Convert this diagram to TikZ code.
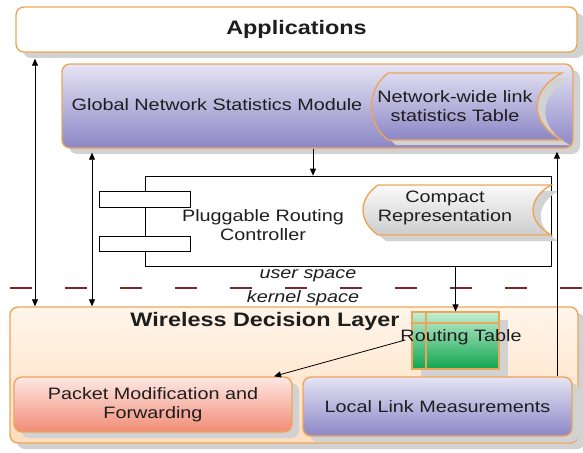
\documentclass[tikz,border=0pt]{standalone}
\usepackage{fontspec}
\setmainfont{Liberation Sans}[FakeStretch=1.2]
\usetikzlibrary{shadows,arrows.meta,calc}
\definecolor{ob}{RGB}{236,166,90}
\definecolor{purT}{RGB}{230,228,244}
\definecolor{purB}{RGB}{140,134,198}
\definecolor{redT}{RGB}{253,232,228}
\definecolor{redB}{RGB}{242,140,118}
\definecolor{orT}{RGB}{255,245,234}
\definecolor{orB}{RGB}{252,222,190}
\definecolor{grT}{RGB}{196,238,210}
\definecolor{grB}{RGB}{16,166,80}
\definecolor{cpT}{RGB}{250,250,250}
\definecolor{cpB}{RGB}{205,205,205}
\definecolor{dashc}{RGB}{125,40,40}
\definecolor{shc}{RGB}{210,210,210}
\definecolor{tx}{RGB}{30,30,30}
\newcommand\rgfont{\fontsize{16.5}{19}\selectfont}
\newcommand\bgfont{\fontsize{19.5}{22}\selectfont\bfseries}
\begin{document}
\begin{tikzpicture}[x=1pt,y=-1pt,
  box/.style={draw=ob, line width=1.4pt, rounded corners=8pt, inner sep=0pt, align=center, font=\rgfont, text=tx},
  shad/.style={drop shadow={shadow xshift=7pt, shadow yshift=-6pt, fill=shc, opacity=1}},
  txt/.style={inner sep=0pt, align=center, font=\rgfont, text=tx},
  arr/.style={-{Triangle[length=7pt,width=6pt]}, line width=0.8pt},
  darr/.style={{Triangle[length=7pt,width=6pt]}-{Triangle[length=7pt,width=6pt]}, line width=0.8pt},
  flag/.style={draw=ob, line width=1.4pt},
  thinbox/.style={draw=black, line width=0.7pt, fill=white, inner sep=0pt}
]
\useasboundingbox (0,0) rectangle (583,452);

% Applications
\node[box, shad, fill=white, minimum width=561pt, minimum height=45pt, font=\bgfont] (app) at (296.5,29.5) {Applications};

% Global Network Statistics Module
\node[box, shad, top color=purT, bottom color=purB, minimum width=511pt, minimum height=84pt] (gnsm) at (317.5,106) {};
\node[txt] (gnsmtxt) at (217,105) {Global Network Statistics Module};
% table flag shape
\fill[shc] (396,78) -- (570,78) .. controls (537,95) and (537,128) .. (570,145) -- (396,145) .. controls (374,128) and (374,95) .. (396,78) -- cycle;
\path[flag, top color=purT!90!purB, bottom color=purB] (388,73) -- (562,73) .. controls (529,90) and (529,123) .. (562,140) -- (388,140) .. controls (366,123) and (366,90) .. (388,73) -- cycle;
\node[txt] (tbl) at (455,106) {Network-wide link\\statistics Table};

% Pluggable Routing Controller
\node[thinbox, minimum width=406pt, minimum height=90pt] (prc) at (348,221) {};
\node[thinbox, minimum width=91pt, minimum height=16pt] (port1) at (144.5,199) {};
\node[thinbox, minimum width=91pt, minimum height=15pt] (port2) at (144.5,243.5) {};
\node[txt] (prctxt) at (263,225) {Pluggable Routing\\Controller};
% compact representation flag
\fill[shc] (386,191) -- (558,191) .. controls (535,205) and (535,227) .. (558,241) -- (386,241) .. controls (366,227) and (366,205) .. (386,191) -- cycle;
\path[flag, top color=cpT, bottom color=cpB] (378,185) -- (551,185) .. controls (527,199) and (527,221) .. (551,235) -- (378,235) .. controls (358,221) and (358,199) .. (378,185) -- cycle;
\node[txt] (cmp) at (445,208) {Compact\\Representation};

% user / kernel space
\draw[dashc, line width=1.6pt, dash pattern=on 22pt off 33pt, dash phase=45pt] (0,288) -- (583,288);
\node[txt, font=\rgfont\itshape] (us) at (308,276) {user space};
\node[txt, font=\rgfont\itshape] (ks) at (303,298) {kernel space};

% Wireless Decision Layer
\node[box, shad, top color=orT, bottom color=orB, minimum width=568pt, minimum height=136pt] (wdl) at (294,375) {};
\node[txt, font=\bgfont] (wdltxt) at (265,321) {Wireless Decision Layer};

% Routing table
\node[draw=ob, line width=1.2pt, top color=grT, bottom color=grB, inner sep=0pt, minimum width=87pt, minimum height=57pt,
  drop shadow={shadow xshift=9pt, shadow yshift=-8pt, fill=shc, opacity=1}] (rt) at (455.5,340.5) {};
\draw[ob, line width=1.2pt] (426,312) -- (426,369);
\draw[ob, line width=1.2pt] (412,323) -- (499,323);
\node[txt] (rttxt) at (461,337) {Routing Table};

% Packet modification / Local link
\node[box, shad, top color=redT, bottom color=redB, minimum width=278pt, minimum height=55pt] (pm) at (153,404.5) {Packet Modification and\\Forwarding};
\node[box, shad, top color=purT, bottom color=purB, minimum width=269pt, minimum height=59pt] (llm) at (437.5,406.5) {Local Link Measurements};

% connectors
\draw[darr, shorten <=6pt] (app.south -| 35,0) -- (wdl.north -| 35,0);
\draw[darr, shorten <=4pt] (gnsm.south -| 92,0) -- (wdl.north -| 92,0);
\draw[arr] (gnsm.south -| 313,0) -- (prc.north -| 313,0);
\draw[arr] (prc.south -| rt.north) -- (rt.north);
\draw[arr, shorten >=3pt] (llm.north -| 557,0) -- (gnsm.south -| 557,0);
\draw[arr] ([xshift=5pt,yshift=-3pt]rttxt.west) -- (pm.north -| 274,0);
\end{tikzpicture}
\end{document}
